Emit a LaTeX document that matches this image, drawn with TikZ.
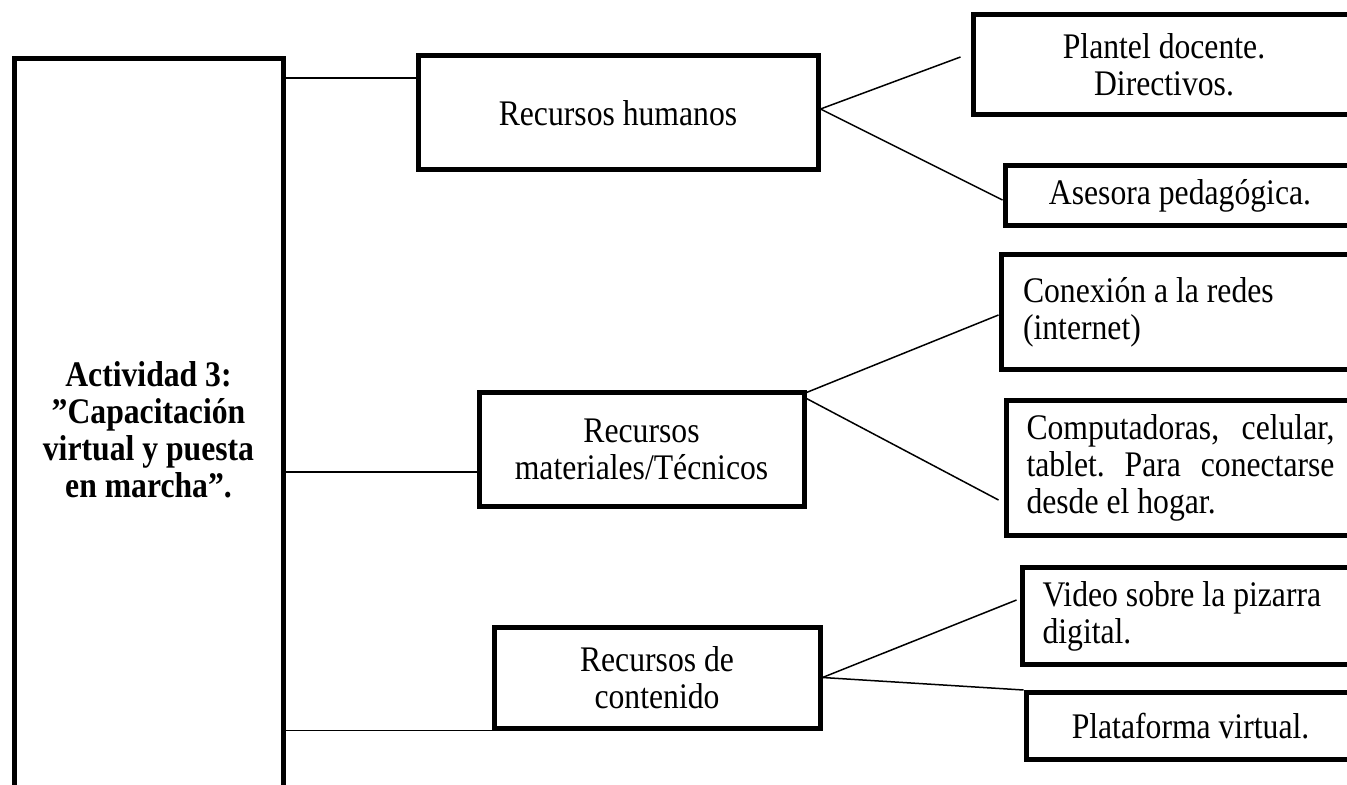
\documentclass[tikz,border=0pt]{standalone}
\usepackage{fontspec}
\setmainfont[FakeStretch=0.88]{Liberation Serif}
\newcommand{\rfont}{\fontsize{18}{18.5}\selectfont}

\begin{document}
\begin{tikzpicture}[x=0.5pt, y=-0.5pt,
	rbox/.style={draw, line width=2.5pt, inner sep=0pt, align=center, font=\rfont},
	conn/.style={-, line width=0.75pt}]
	\useasboundingbox (0,0) rectangle (1347,785);
	\clip (0,0) rectangle (1347,785);
					\node[rbox, minimum width=134.5pt, minimum height=371pt, font=\rfont\bfseries] (act) at (148.5,430) {Actividad 3:\\ ”Capacitación\\ virtual y puesta\\ en marcha”.};
					\node[rbox, minimum width=200pt, minimum height=57pt] (hum) at (618,113) {Recursos humanos};
					\node[rbox, minimum width=162.5pt, minimum height=56.5pt] (mat) at (641.5,449.5) {Recursos\\ materiales/Técnicos};
					\node[rbox, minimum width=163pt, minimum height=50.5pt] (cont) at (657,677.5) {Recursos de\\ contenido};
					\node[rbox, minimum width=191pt, minimum height=50pt] (plan) at (1164,65) {Plantel docente.\\ Directivos.};
					\node[rbox, minimum width=175pt, minimum height=30pt] (ases) at (1180,196) {Asesora pedagógica.};
					\node[rbox, minimum width=177pt, minimum height=57.5pt, text width=155pt, align=flush left] (conex) at (1178,312) {Conexión a la redes\\ (internet)};
					\node[rbox, minimum width=174.5pt, minimum height=67.25pt, text width=154pt, align=flush left] (comp) at (1180.5,468) {Computadoras,\hfill celular,\\ tablet.\hfill Para\hfill conectarse\\ desde el hogar.};
					\node[rbox, minimum width=166.5pt, minimum height=48.5pt, text width=146pt, align=flush left] (vid) at (1188.5,616) {Video sobre la pizarra\\ digital.};
					\node[rbox, minimum width=164.5pt, minimum height=33.5pt] (plat) at (1190.5,726) {Plataforma virtual.};
					\draw[conn] ([yshift=17.5pt]act.east |- hum.west) to ([yshift=17.5pt]hum.west);
					\draw[conn] ([yshift=-11.25pt]act.east |- mat.west) to ([yshift=-11.25pt]mat.west);
					\draw[conn] (act.east |- cont.south west) to (cont.south west);
					\draw[conn] ([yshift=2pt]hum.east) to ([xshift=-5pt,yshift=4pt]plan.west);
					\draw[conn] ([yshift=2pt]hum.east) to ([yshift=-2pt]ases.west);
					\draw[conn] ([yshift=-1pt]mat.north east) to ([yshift=-1.5pt]conex.west);
					\draw[conn] ([yshift=-4pt]mat.north east) to ([xshift=-2.5pt,yshift=-16pt]comp.west);
					\draw[conn] (cont.east) to ([xshift=-1.5pt,yshift=8pt]vid.west);
					\draw[conn] (cont.east) to (plat.north west);
				\end{tikzpicture}
\end{document}
